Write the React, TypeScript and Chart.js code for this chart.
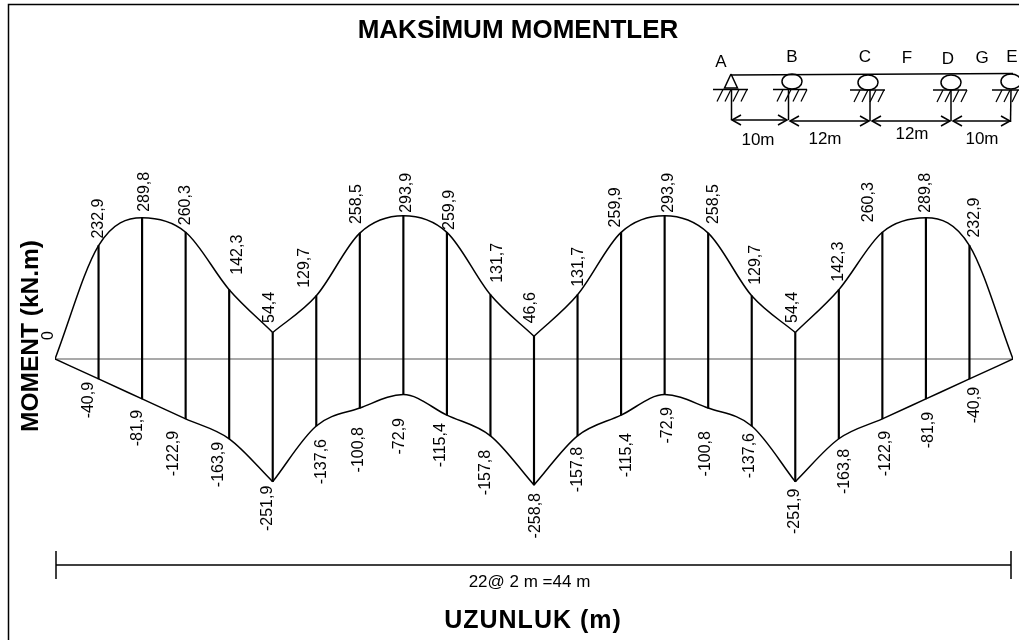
import React, { useEffect, useRef } from "react";
import { Chart, registerables } from "chart.js";

Chart.register(...registerables);

const stationsM = [0, 2, 4, 6, 8, 10, 12, 14, 16, 18, 20, 22, 24, 26, 28, 30, 32, 34, 36, 38, 40, 42, 44];
const maxMoment = [0, 232.9, 289.8, 260.3, 142.3, 54.4, 129.7, 258.5, 293.9, 259.9, 131.7, 46.6, 131.7, 259.9, 293.9, 258.5, 129.7, 54.4, 142.3, 260.3, 289.8, 232.9, 0];
const minMoment = [0, -40.9, -81.9, -122.9, -163.9, -251.9, -137.6, -100.8, -72.9, -115.4, -157.8, -258.8, -157.8, -115.4, -72.9, -100.8, -137.6, -251.9, -163.8, -122.9, -81.9, -40.9, 0];
const supportIndices = [0, 5, 11, 17, 22];

// label placement, relative to each mark (pixels)
const maxLabelDx = [-8, -1.5, 1, -1.6, 7, -4.7, -13, -4.8, 2, 1, 5.5, -5, -0.6, -7, 2.3, 4.3, 2, -4, -2, -15.5, -2, 3.5];
const maxLabelDy = [-19, -7, -6, -7, -15, -9.5, -8, -9, -3, -2.4, -12, -13, -8, -5, -3, -9, -11, -9.5, -8, -10, -5, -8];
const minLabelDx = [0, -11.5, -6, -13.6, -12, -6.7, 4, -2.8, -5, -8, -6.5, 0, -1.6, 4, 1.3, -3.7, -4, -2, 4, 1.5, 1, 3.5];
const minLabelDy = [0, 3, 11, 12, 3, 4, 13, 19, 23.5, 8, 14, 8, 11, 18, 12.5, 23, 7, 7, 10, 12, 13, 8];

const FONT = '"Liberation Sans", Arial, sans-serif';
const fmt = (v: number) => String(v).replace(".", ",");

function pts(values: number[], from: number, to: number) {
  const out: { x: number; y: number }[] = [];
  for (let i = from; i <= to; i++) out.push({ x: stationsM[i], y: values[i] });
  return out;
}

function spanDatasets(values: number[]) {
  const out: any[] = [];
  for (let s = 0; s < supportIndices.length - 1; s++) {
    out.push({
      type: "line",
      data: pts(values, supportIndices[s], supportIndices[s + 1]),
      borderColor: "#000",
      borderWidth: 1.5,
      pointRadius: 0,
      cubicInterpolationMode: "monotone",
      order: 1,
    });
  }
  return out;
}

const overlay = {
  id: "overlay",
  afterDraw(chart: any) {
    const c = chart.ctx as any;
    const xs = chart.scales.x;
    const ys = chart.scales.y;
    c.save();
    c.fillStyle = "#000";
    c.strokeStyle = "#000";

    const line = (pp: number[], w = 1.2) => {
      c.lineWidth = w;
      c.beginPath();
      c.moveTo(pp[0], pp[1]);
      for (let i = 2; i < pp.length; i += 2) c.lineTo(pp[i], pp[i + 1]);
      c.stroke();
    };
    const text = (s: string, x: number, y: number, font: string, align: CanvasTextAlign = "center", spacing = "0px") => {
      c.font = font;
      c.letterSpacing = spacing;
      c.textAlign = align;
      c.textBaseline = "middle";
      c.fillText(s, x, y);
      c.letterSpacing = "0px";
    };
    const vtext = (s: string, x: number, y: number, font: string, align: CanvasTextAlign) => {
      c.save();
      c.translate(x, y);
      c.rotate(-Math.PI / 2);
      text(s, 0, 0, font, align);
      c.restore();
    };

    // frame
    line([8.5, 640, 8.5, 4.5, 1019, 4.5], 1.5);

    // value labels
    const lf = `16px ${FONT}`;
    for (let i = 0; i < 22; i++) {
      const px = xs.getPixelForValue(stationsM[i]);
      vtext(fmt(maxMoment[i]), px + maxLabelDx[i] + 1.5, ys.getPixelForValue(maxMoment[i]) + maxLabelDy[i], lf, "left");
      if (i > 0) vtext(fmt(minMoment[i]), px + minLabelDx[i] + 1.5, ys.getPixelForValue(minMoment[i]) + minLabelDy[i], lf, "right");
    }

    // titles
    text("MAKSİMUM MOMENTLER", 518, 31, `bold 26px ${FONT}`);
    vtext("MOMENT (kN.m)", 31, 336, `bold 24.5px ${FONT}`, "center");
    text("UZUNLUK (m)", 533, 621, `bold 25px ${FONT}`, "center", "1px");
    text("22@ 2 m =44 m", 529.5, 582, `17px ${FONT}`);

    // dimension line
    line([56, 565, 1011, 565], 1.5);
    line([56, 551, 56, 579], 1.5);
    line([1011, 551, 1011, 579], 1.5);

    // beam schematic
    line([731, 75, 1013, 73.5], 1.5);
    line([731, 74, 724.5, 88, 737.5, 88, 731, 74], 1.5);
    const ground = (x1: number, x2: number, y: number) => {
      line([x1, y, x2, y], 1.5);
      for (let k = 0; k < 4; k++) {
        const hx = x1 + 10 + k * 8;
        line([hx, y, hx - 6, y + 12], 1.2);
      }
    };
    ground(713, 748, 89.5);
    ground(773, 807, 89.5);
    ground(850, 885, 90);
    ground(933, 967, 90);
    ground(992, 1019, 90);
    const roller = (x: number, y: number) => {
      c.lineWidth = 1.5;
      c.beginPath();
      c.ellipse(x, y, 10, 7.5, 0, 0, Math.PI * 2);
      c.stroke();
    };
    roller(792, 81.5);
    roller(868, 82.5);
    roller(951, 82.5);
    roller(1011, 81.5);
    line([731.5, 90, 731.5, 120], 1.5);
    line([788.5, 90, 788.5, 120], 1.5);
    line([870, 90, 870, 121], 1.5);
    line([951, 90, 951, 121], 1.5);
    line([1011, 90, 1010.5, 122], 1.5);
    const arrow = (x1: number, x2: number, y: number) => {
      line([x1, y, x2, y], 1.5);
      line([x1 + 9, y - 5, x1, y, x1 + 9, y + 5], 1.5);
      line([x2 - 9, y - 5, x2, y, x2 - 9, y + 5], 1.5);
    };
    arrow(732, 787, 120);
    arrow(790, 869, 121);
    arrow(872, 950, 121);
    arrow(953, 1010, 121);
    const sf = `17px ${FONT}`;
    text("A", 721, 62, sf);
    text("B", 792, 57, sf);
    text("C", 865, 57, sf);
    text("F", 907, 58, sf);
    text("D", 948, 59, sf);
    text("G", 982, 58, sf);
    text("E", 1012, 57, sf);
    text("10m", 758, 140, sf);
    text("12m", 825, 139, sf);
    text("12m", 912, 134, sf);
    text("10m", 982, 139, sf);
    c.restore();
  },
};

export default function App() {
  const ref = useRef<HTMLCanvasElement>(null);
  useEffect(() => {
    if (!ref.current) return;
    const chart = new Chart(ref.current, {
      type: "line",
      data: {
        datasets: [
          {
            type: "bar",
            data: stationsM.slice(1, 22).map((x, k) => ({ x, y: [minMoment[k + 1], maxMoment[k + 1]] })),
            backgroundColor: "#000",
            barThickness: 1.5,
            order: 2,
          },
          {
            type: "line",
            data: [
              { x: stationsM[0], y: 0 },
              { x: stationsM[22], y: 0 },
            ],
            borderColor: "#555",
            borderWidth: 1.2,
            pointRadius: 0,
            order: 3,
          },
          ...spanDatasets(maxMoment),
          ...spanDatasets(minMoment),
        ] as any,
      },
      options: {
        animation: false,
        responsive: false,
        layout: { padding: { left: 55, right: 6, top: 100, bottom: 40 } },
        plugins: { legend: { display: false }, tooltip: { enabled: false }, title: { display: false } },
        scales: {
          x: { type: "linear", min: 0, max: 44, offset: false, display: false },
          y: { type: "linear", min: -494.9, max: 531.8, display: false },
        },
      },
      plugins: [overlay],
    } as any);
    return () => chart.destroy();
  }, []);
  return (
    <div style={{ position: "fixed", left: 0, top: 0, width: 1019, height: 640, background: "#fff" }}>
      <canvas ref={ref} width={1019} height={640} style={{ display: "block", width: 1019, height: 640 }} />
    </div>
  );
}
